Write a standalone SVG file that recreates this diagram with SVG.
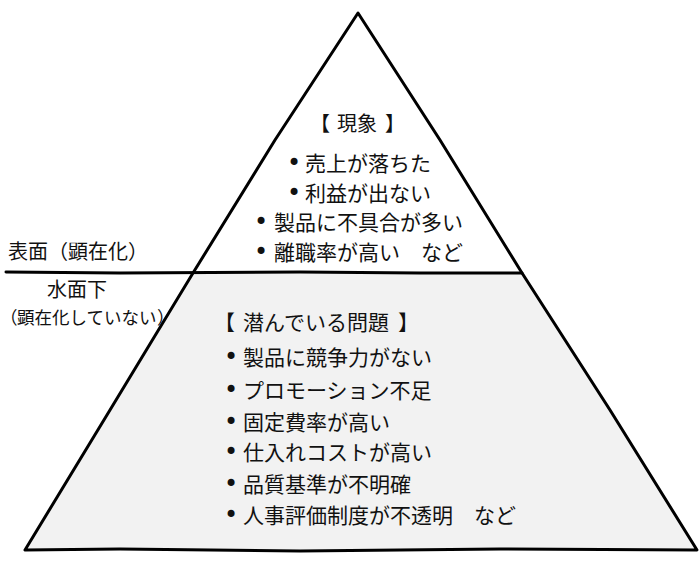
<svg xmlns="http://www.w3.org/2000/svg" width="700" height="565" viewBox="0 0 700 565">
<style>
.t{font-family:"Noto Sans CJK JP","Noto Sans CJK SC",sans-serif;fill:#111;font-size:21px}
.s20{font-size:20px}
.s17{font-size:17.5px}
.b{font-family:"DejaVu Sans",sans-serif;font-size:24px}
.l{fill:none;stroke:#000;stroke-width:3;stroke-linejoin:round;stroke-linecap:round}
</style>
<rect width="700" height="565" fill="#fff"/>
<g id="connectors">
<polygon id="underwater" points="193,273 522,273 697,550 25,550" fill="#f2f2f2"/>
<path class="l" d="M358,13 L275,140 L193,273 L110,410 L25,550 L120,549 L300,551 L500,549 L697,550 L610,410 L522,273 L440,140 Z"/>
<path class="l" d="M6,272 L120,273 L300,272 L420,273 L522,273"/>
</g>
<g id="surface-label">
<text class="t s20" y="259"><tspan x="8">表面</tspan><tspan x="48">（</tspan><tspan x="68">顕在化</tspan><tspan x="128">）</tspan></text>
</g>
<g id="underwater-label">
<text class="t s20" x="47" y="297">水面下</text>
<text class="t s17" y="324"><tspan x="0">（</tspan><tspan x="17">顕在化していない</tspan><tspan x="157">）</tspan></text>
</g>
<g id="phenomena">
<text class="t s20" y="131"><tspan x="310">【</tspan><tspan x="337">現象</tspan><tspan x="385">】</tspan></text>
<text class="t" y="171"><tspan class="b" x="287">•</tspan><tspan x="305">売上が落ちた</tspan></text>
<text class="t" y="201"><tspan class="b" x="287">•</tspan><tspan x="305">利益が出ない</tspan></text>
<text class="t" y="230"><tspan class="b" x="254">•</tspan><tspan x="274">製品に不具合が多い</tspan></text>
<text class="t" y="260"><tspan class="b" x="254">•</tspan><tspan x="274">離職率が高い　など</tspan></text>
</g>
<g id="hidden-problems">
<text class="t" y="330"><tspan x="214">【</tspan><tspan x="243">潜んでいる問題</tspan><tspan x="398">】</tspan></text>
<text class="t" y="365"><tspan class="b" x="224">•</tspan><tspan x="243">製品に競争力がない</tspan></text>
<text class="t" y="398"><tspan class="b" x="224">•</tspan><tspan x="243">プロモーション不足</tspan></text>
<text class="t" y="430"><tspan class="b" x="224">•</tspan><tspan x="243">固定費率が高い</tspan></text>
<text class="t" y="460"><tspan class="b" x="224">•</tspan><tspan x="243">仕入れコストが高い</tspan></text>
<text class="t" y="492"><tspan class="b" x="224">•</tspan><tspan x="243">品質基準が不明確</tspan></text>
<text class="t" y="523"><tspan class="b" x="224">•</tspan><tspan x="243">人事評価制度が不透明　など</tspan></text>
</g>
</svg>
